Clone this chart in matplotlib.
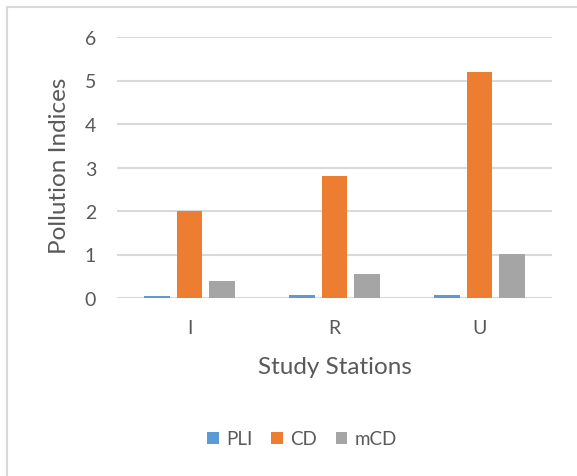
import matplotlib
matplotlib.use('Agg')
import matplotlib.pyplot as plt
import matplotlib.patches as mpatches
import numpy as np

# data
stations = ['I', 'R', 'U']
pli = [0.05, 0.08, 0.08]
cd = [2.0, 2.8, 5.2]
mcd = [0.40, 0.56, 1.02]

series = [('PLI', pli, '#5b9bd5'), ('CD', cd, '#ed7d31'), ('mCD', mcd, '#a5a5a5')]

plt.rcParams['font.family'] = ['Lato', 'DejaVu Sans']
grey = '#595959'

fig = plt.figure(figsize=(5.77, 4.77), dpi=100)
ax = fig.add_axes([117/577, 1-299/477, 435/577, 261/477])

# chart frame, cut off at right and bottom like the source
fig.patches.append(mpatches.Rectangle((7/577, -0.1), 1.2, 1.1 - 8/477,
                                      transform=fig.transFigure, fill=False,
                                      edgecolor='#d9d9d9', linewidth=1.5))

x = np.arange(len(stations))
w = 0.177
step = 0.222
for i, (name, vals, col) in enumerate(series):
    ax.bar(x + (i-1)*step, vals, width=w, color=col, label=name, zorder=3)

ax.set_xlim(-0.5, 2.5)
ax.set_ylim(0, 6)
ax.set_yticks(range(0, 7))
ax.set_xticks(x)
ax.set_xticklabels(stations)
ax.grid(axis='y', color='#d9d9d9', linewidth=1.5, zorder=0)
for s in ax.spines.values():
    s.set_visible(False)
ax.tick_params(length=0, labelsize=14, colors=grey)
ax.tick_params(axis='y', pad=15)
ax.tick_params(axis='x', pad=15)

ax.set_ylabel('Pollution Indices', fontsize=17.5, color=grey)
ax.yaxis.set_label_coords((70-117)/435, 0.51)
ax.set_xlabel('Study Stations', fontsize=17.5, color=grey)
ax.xaxis.set_label_coords(0.5, (299-357)/261)

ax.legend(loc='center', bbox_to_anchor=(302/577, 1-440/477), bbox_transform=fig.transFigure,
          ncol=3, frameon=False, fontsize=13.5, labelcolor=grey,
          handlelength=0.6, handleheight=0.6, handletextpad=0.4, columnspacing=1.0)

plt.savefig('out.png', dpi=100)
